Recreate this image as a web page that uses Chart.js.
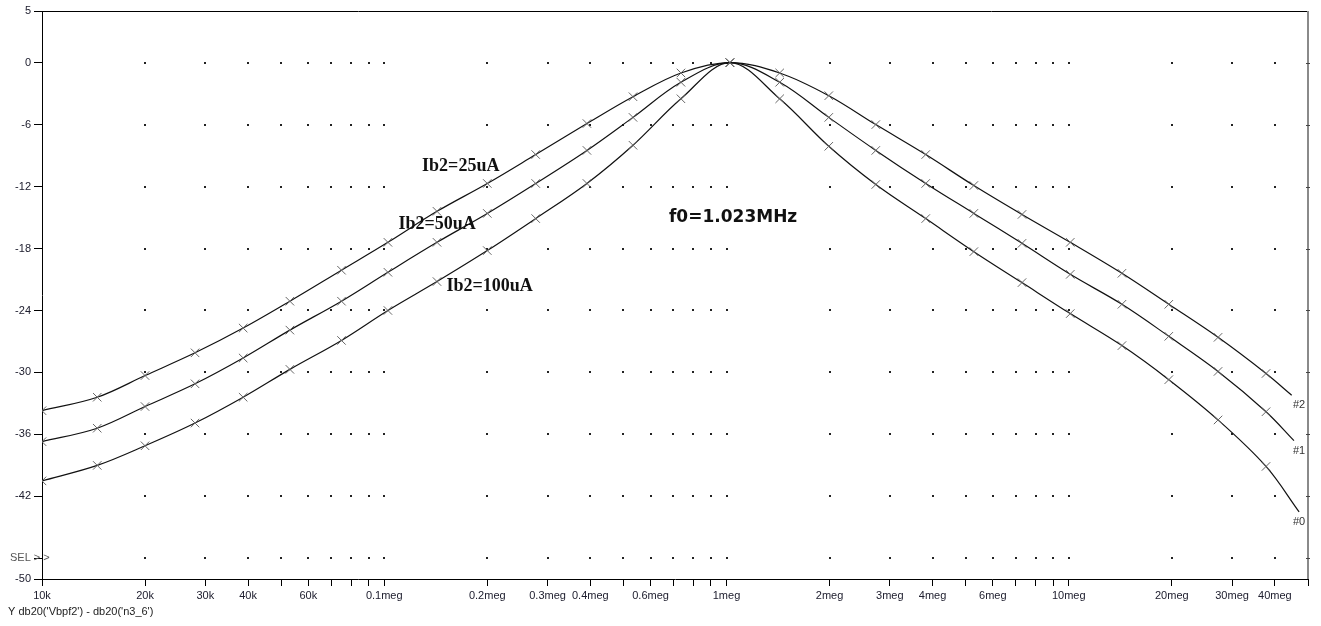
<!DOCTYPE html>
<html>
<head>
<meta charset="utf-8">
<script src="https://cdn.jsdelivr.net/npm/chart.js@4.4.1/dist/chart.umd.min.js"></script>
<style>
  html, body { margin: 0; padding: 0; background: #fff; }
  #bode { display: block; }
</style>
</head>
<body>
<canvas id="bode" width="1321" height="626"></canvas>
<script>
// marker frequencies (Hz)
var freqs = [10e3, 14.5e3, 20e3, 28e3, 38.7e3, 53e3, 75e3, 102.5e3, 142.6e3, 200e3,
             277e3, 391e3, 533e3, 736e3, 1.023e6, 1.43e6, 1.99e6, 2.73e6, 3.82e6,
             5.28e6, 7.3e6, 10.1e6, 14.3e6, 19.6e6, 27.3e6, 37.7e6];

// gain in dB, one array per bias current
var ib25 = [-33.7, -32.4, -30.3, -28.1, -25.7, -23.1, -20.1, -17.4, -14.4, -11.7,
            -8.9, -5.9, -3.3, -1.0, 0, -1.0, -3.2, -6.0, -8.9,
            -11.9, -14.7, -17.4, -20.4, -23.4, -26.6, -30.1];
var ib50 = [-36.7, -35.4, -33.3, -31.1, -28.6, -25.9, -23.1, -20.3, -17.4, -14.6,
            -11.7, -8.5, -5.3, -1.9, 0, -1.9, -5.3, -8.5, -11.7,
            -14.6, -17.5, -20.5, -23.4, -26.5, -29.9, -33.8];
var ib100 = [-40.5, -39.0, -37.1, -34.9, -32.4, -29.7, -26.9, -24.0, -21.2, -18.2,
             -15.1, -11.7, -8.0, -3.5, 0, -3.5, -8.1, -11.8, -15.1,
             -18.3, -21.3, -24.3, -27.4, -30.7, -34.6, -39.1];

// where each trace stops at the right edge  (#2, #1, #0)
var endFreqs = [44.8e6, 45.5e6, 47.1e6];
var endGains = [-32.2, -36.6, -43.5];
var traceNames = ["#2", "#1", "#0"];

// axis ticks
var labeledFreqs = [1e4, 2e4, 3e4, 4e4, 6e4, 1e5, 2e5, 3e5, 4e5, 6e5,
                    1e6, 2e6, 3e6, 4e6, 6e6, 1e7, 2e7, 3e7, 4e7];
var freqLabels = ["10k", "20k", "30k", "40k", "60k", "0.1meg", "0.2meg", "0.3meg", "0.4meg", "0.6meg",
                  "1meg", "2meg", "3meg", "4meg", "6meg", "10meg", "20meg", "30meg", "40meg"];
var dbTicks = [5, 0, -6, -12, -18, -24, -30, -36, -42, -48, -50];
var dbLabels = ["5", "0", "-6", "-12", "-18", "-24", "-30", "-36", "-42", "", "-50"];

// every 1..9 x decade tick from 10k to 50meg
var freqTicks = [];
for (var e = 4; e <= 7; e++) {
    for (var m = 1; m <= 9; m++) {
        var v = m * Math.pow(10, e);
        if (v <= 5e7) freqTicks.push(v);
    }
}

function freqLabel(v) {
    for (var i = 0; i < labeledFreqs.length; i++) {
        if (Math.abs(labeledFreqs[i] - v) / v < 1e-6) return freqLabels[i];
    }
    return "";
}

function trace(gains, k) {
    var pts = freqs.map(function (f, i) { return { x: f, y: gains[i] }; });
    pts.push({ x: endFreqs[k], y: endGains[k] });
    return {
        label: traceNames[k],
        data: pts,
        borderColor: "#111",
        borderWidth: 1.2,
        tension: 0.35,
        pointStyle: "crossRot",
        pointRadius: function (c) { return c.dataIndex === pts.length - 1 ? 0 : 6; },
        pointBorderColor: "#666",
        pointBorderWidth: 1,
        pointBackgroundColor: "transparent",
        fill: false
    };
}

var notes = [
    { text: "Ib2=25uA",   x: 129e3, y: -10.0, font: "bold 18px 'Liberation Serif'" },
    { text: "Ib2=50uA",   x: 110e3, y: -15.7, font: "bold 18px 'Liberation Serif'" },
    { text: "Ib2=100uA",  x: 152e3, y: -21.7, font: "bold 18px 'Liberation Serif'" },
    { text: "f0=1.023MHz", x: 679e3, y: -15.0, font: "bold 17px 'DejaVu Sans'" }
];

// dotted grid, frame and texts
var decor = {
    id: "decor",
    beforeDatasetsDraw: function (chart) {
        var ctx = chart.ctx, xs = chart.scales.x, ys = chart.scales.y, a = chart.chartArea;
        ctx.save();
        ctx.fillStyle = "#222";
        freqTicks.forEach(function (f) {
            if (f <= 1e4 || f >= 5e7) return;
            var px = Math.round(xs.getPixelForValue(f));
            dbTicks.forEach(function (d) {
                if (d >= 5 || d <= -50) return;
                var py = Math.round(ys.getPixelForValue(d));
                ctx.fillRect(px - 1, py - 1, 2, 2);
            });
        });
        // top frame
        ctx.strokeStyle = "#000";
        ctx.lineWidth = 1;
        ctx.beginPath();
        ctx.moveTo(a.left, a.top + 0.5);
        ctx.lineTo(a.right, a.top + 0.5);
        ctx.stroke();
        // right frame (grey) with little ticks
        ctx.strokeStyle = "#8a8a8a";
        ctx.lineWidth = 2;
        ctx.beginPath();
        ctx.moveTo(a.right, a.top);
        ctx.lineTo(a.right, a.bottom);
        ctx.stroke();
        ctx.strokeStyle = "#444";
        ctx.lineWidth = 1;
        dbTicks.forEach(function (d) {
            if (d >= 5 || d <= -50) return;
            var py = Math.round(ys.getPixelForValue(d)) + 0.5;
            ctx.beginPath();
            ctx.moveTo(a.right - 2, py);
            ctx.lineTo(a.right + 2, py);
            ctx.stroke();
        });
        ctx.restore();
    },
    afterDatasetsDraw: function (chart) {
        var ctx = chart.ctx, xs = chart.scales.x, ys = chart.scales.y, a = chart.chartArea;
        ctx.save();
        ctx.textBaseline = "middle";
        ctx.textAlign = "left";
        ctx.fillStyle = "#111";
        notes.forEach(function (n) {
            ctx.font = n.font;
            ctx.fillText(n.text, xs.getPixelForValue(n.x), ys.getPixelForValue(n.y));
        });
        ctx.font = "11px 'Liberation Sans'";
        ctx.fillStyle = "#333";
        traceNames.forEach(function (t, k) {
            ctx.fillText(t, a.right - 15, ys.getPixelForValue(endGains[k]) + 10);
        });
        ctx.fillStyle = "#555";
        ctx.fillText("SEL > >", 10, ys.getPixelForValue(-48));
        ctx.fillStyle = "#222";
        ctx.fillText("Y db20('Vbpf2') - db20('n3_6')", 8, 612);
        ctx.restore();
    }
};

var chart = new Chart(document.getElementById("bode"), {
    type: "line",
    data: { datasets: [trace(ib25, 0), trace(ib50, 1), trace(ib100, 2)] },
    plugins: [decor],
    options: {
        responsive: false,
        animation: false,
        events: [],
        layout: { padding: { left: 0, top: 11, right: 13, bottom: 0 } },
        plugins: { legend: { display: false }, tooltip: { enabled: false } },
        scales: {
            x: {
                type: "logarithmic",
                min: 1e4,
                max: 5e7,
                afterBuildTicks: function (s) {
                    s.ticks = freqTicks.map(function (v) { return { value: v }; });
                },
                afterFit: function (s) { s.height = 47; },
                grid: { drawOnChartArea: false, tickLength: 7, color: "#000" },
                border: { color: "#000", width: 1 },
                ticks: {
                    autoSkip: false,
                    maxRotation: 0,
                    padding: 3,
                    color: "#202030",
                    font: { family: "'Liberation Sans'", size: 11 },
                    callback: function (v) { return freqLabel(v); }
                }
            },
            y: {
                min: -50,
                max: 5,
                afterBuildTicks: function (s) {
                    s.ticks = dbTicks.map(function (v) { return { value: v }; });
                },
                afterFit: function (s) { s.width = 42; },
                grid: { drawOnChartArea: false, tickLength: 8, color: "#000" },
                border: { color: "#000", width: 1 },
                ticks: {
                    padding: 3,
                    color: "#202030",
                    font: { family: "'Liberation Sans'", size: 11 },
                    callback: function (v, i) { return dbLabels[i]; }
                }
            }
        }
    }
});
</script>
</body>
</html>
